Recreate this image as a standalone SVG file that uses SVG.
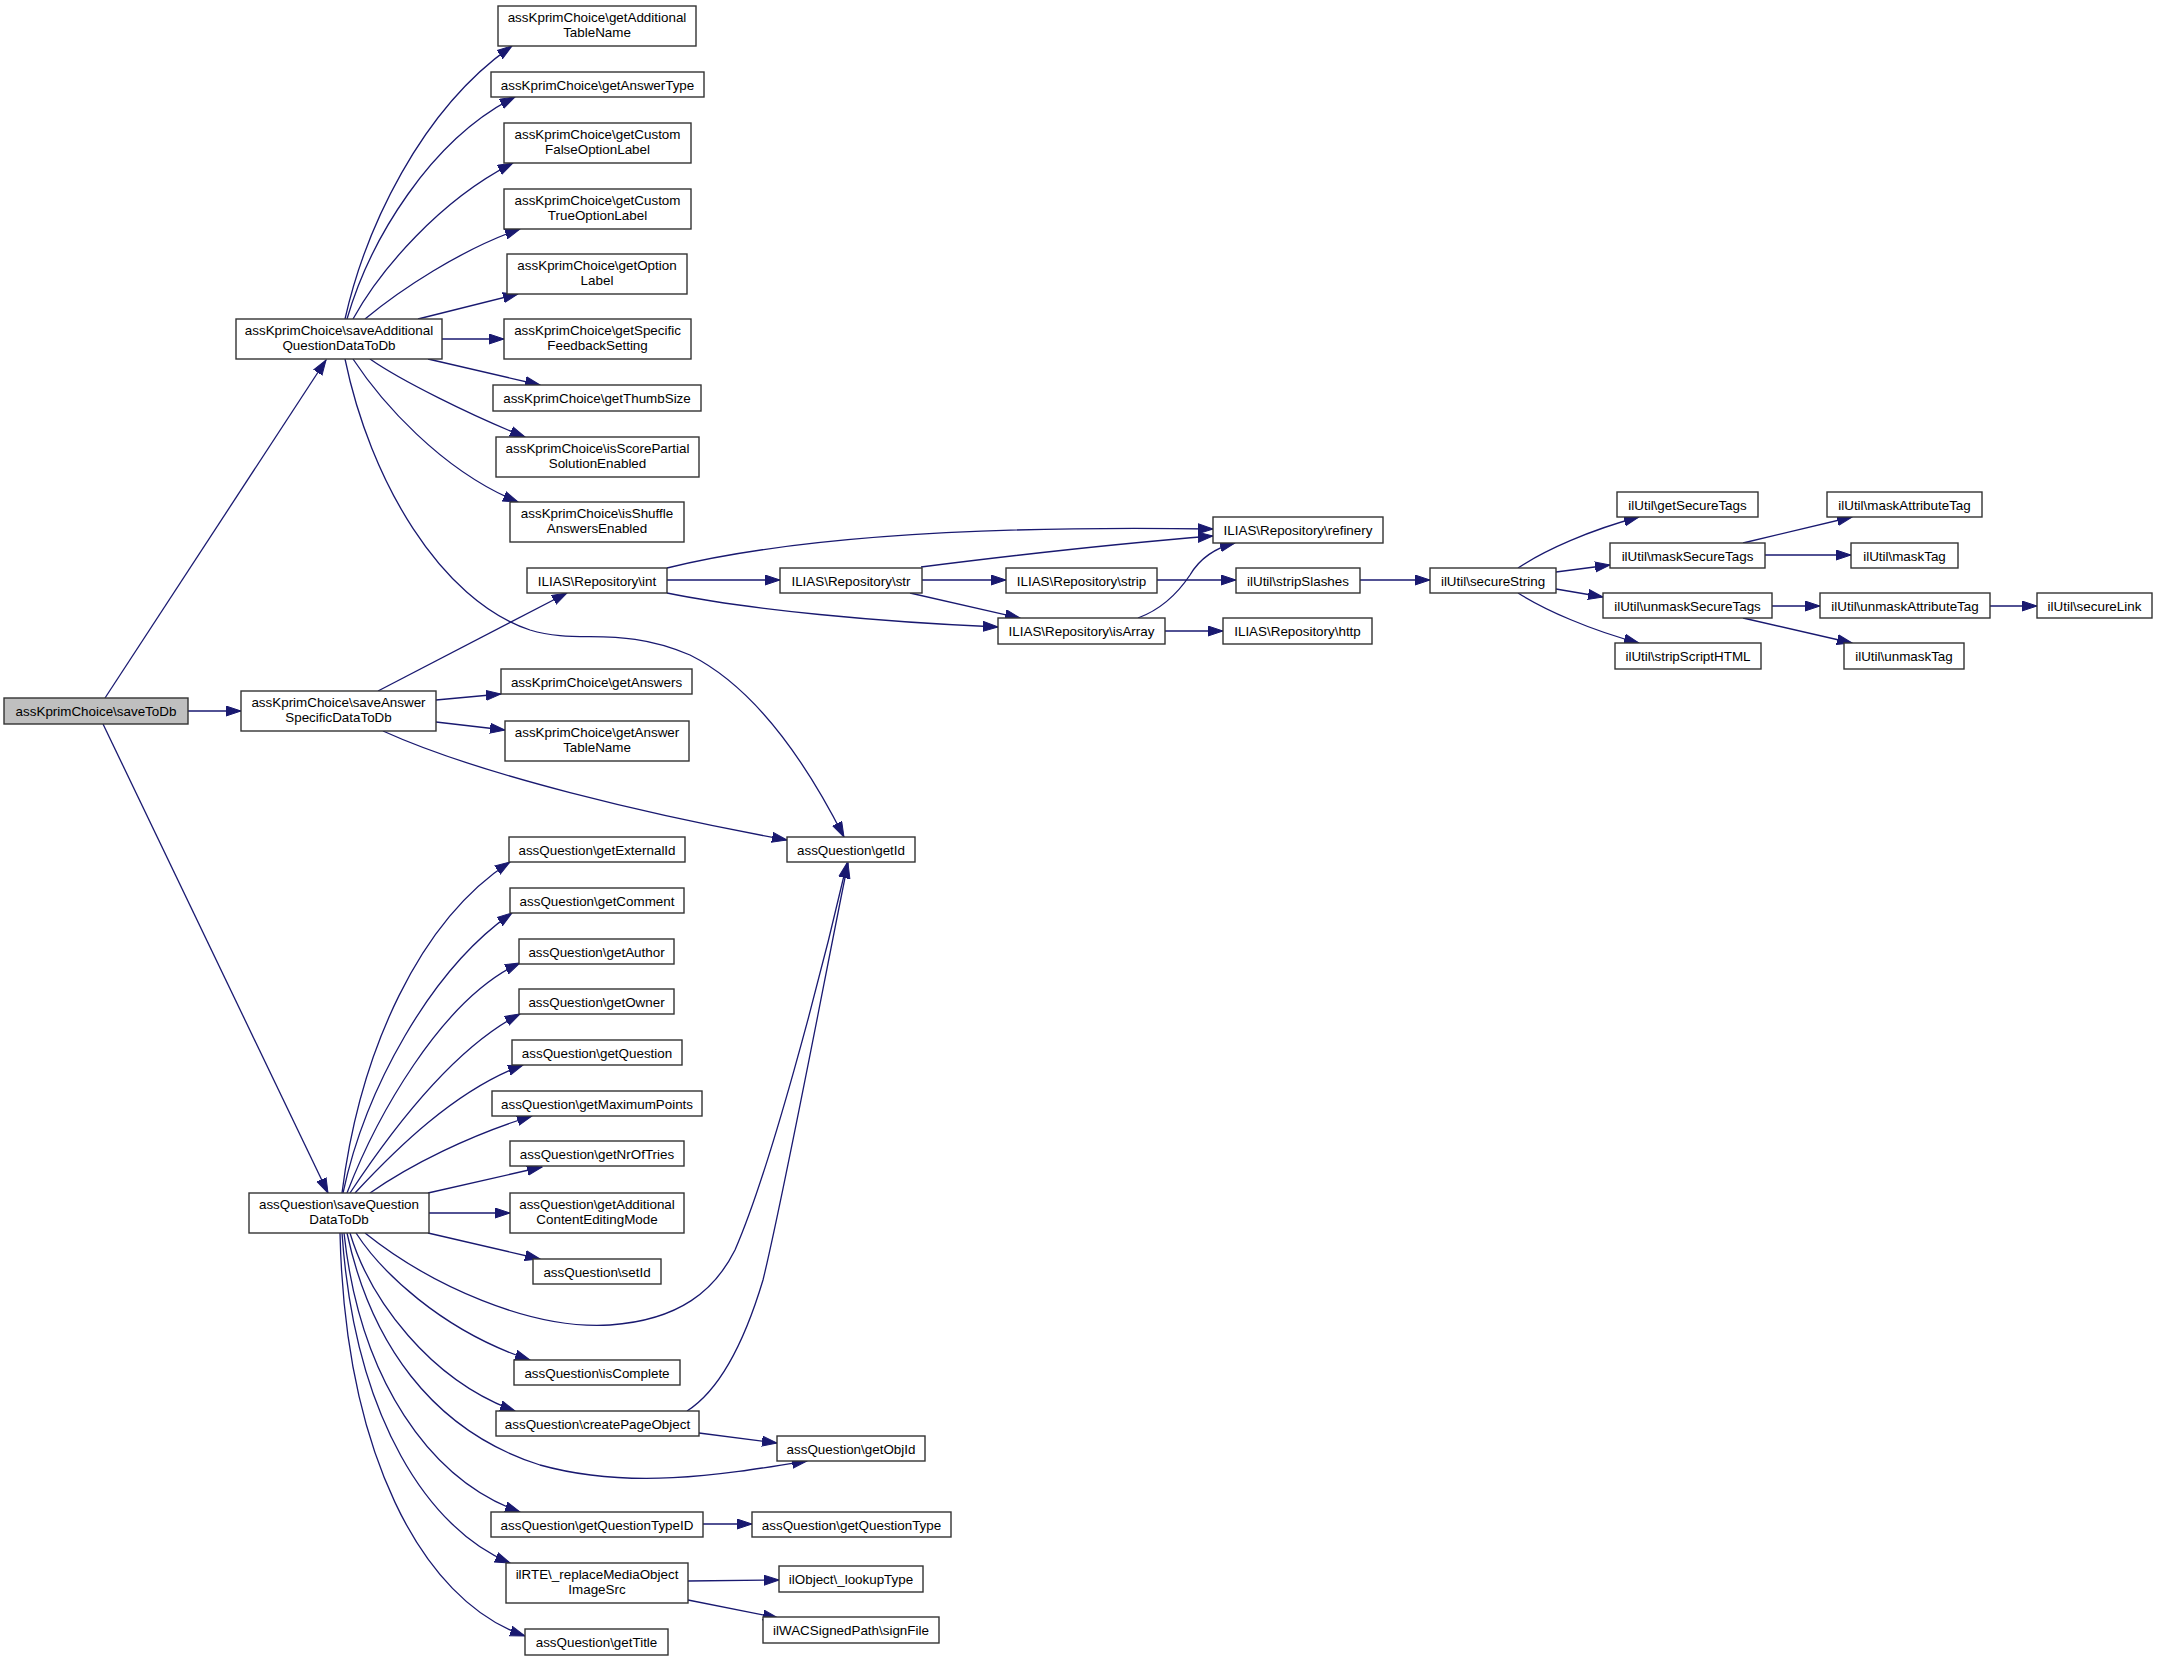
<svg xmlns="http://www.w3.org/2000/svg" width="2157" height="1661" viewBox="0 0 2157 1661">
<style>
.n rect{fill:#fff;stroke:#333;stroke-width:1.4}
.root rect{fill:#bfbfbf}
.n text{font-family:"Liberation Sans",Arial,sans-serif;font-size:13.4px;fill:#000;text-anchor:middle}
.e path{fill:none;stroke:#191970;stroke-width:1.3;marker-end:url(#ah)}
</style>
<defs>
<marker id="ah" markerUnits="userSpaceOnUse" markerWidth="16" markerHeight="12" refX="15" refY="5.5" orient="auto" viewBox="0 0 16 12">
<path d="M0,0.5 L15,5.5 L0,10.5 z" fill="#191970" stroke="#191970" stroke-width="1"/>
</marker>
</defs>
<rect width="2157" height="1661" fill="#fff"/>
<g id="edges" class="e">
<path d="M105,698 L326,360"/>
<path d="M188,711 L241,711"/>
<path d="M103,724 L328,1193"/>
<path d="M345,319 C365,230 420,110 512,46"/>
<path d="M347,319 C370,240 430,140 515,97"/>
<path d="M353,319 C380,270 440,200 513,163"/>
<path d="M365,319 C400,290 460,250 520,229"/>
<path d="M418,319 L518,294"/>
<path d="M442,339 L504,339"/>
<path d="M428,359 L540,385"/>
<path d="M370,359 C400,380 470,415 525,437"/>
<path d="M353,359 C380,400 440,470 518,502"/>
<path d="M345,359 C370,480 440,600 530,630 C580,645 620,625 690,655 C760,690 810,770 844,837"/>
<path d="M378,691 L567,593"/>
<path d="M436,700 L501,694"/>
<path d="M436,722 L505,730"/>
<path d="M383,731 C480,775 650,815 787,840"/>
<path d="M667,568 C780,540 950,525 1213,529"/>
<path d="M667,580 L780,580"/>
<path d="M667,593 C750,610 880,622 998,627"/>
<path d="M921,567 C1000,557 1100,545 1213,536"/>
<path d="M922,580 L1006,580"/>
<path d="M910,593 L1020,618"/>
<path d="M1157,580 L1236,580"/>
<path d="M1360,580 L1430,580"/>
<path d="M1138,618 C1165,608 1180,590 1190,575 C1200,558 1215,548 1235,543"/>
<path d="M1165,631 L1223,631"/>
<path d="M1518,568 C1545,550 1590,530 1639,517"/>
<path d="M1556,572 L1610,565"/>
<path d="M1556,589 L1603,597"/>
<path d="M1518,593 C1545,610 1590,630 1639,643"/>
<path d="M1743,543 L1852,517"/>
<path d="M1765,555 L1851,555"/>
<path d="M1772,606 L1820,606"/>
<path d="M1743,618 L1852,643"/>
<path d="M1990,606 L2037,606"/>
<path d="M342,1193 C360,1050 420,920 510,862"/>
<path d="M343,1193 C365,1090 430,970 512,913"/>
<path d="M347,1193 C375,1120 440,1000 520,963"/>
<path d="M350,1193 C385,1140 450,1050 520,1014"/>
<path d="M355,1193 C395,1150 455,1090 523,1065"/>
<path d="M370,1193 C410,1165 470,1135 532,1116"/>
<path d="M428,1193 L542,1167"/>
<path d="M429,1213 L510,1213"/>
<path d="M428,1233 L540,1259"/>
<path d="M365,1233 C430,1285 530,1330 610,1325 C680,1320 715,1290 735,1250 C770,1170 820,980 847,863"/>
<path d="M687,1411 C720,1390 745,1340 763,1280 C785,1190 830,950 848,863"/>
<path d="M699,1433 L777,1443"/>
<path d="M356,1233 C380,1270 440,1330 530,1360"/>
<path d="M350,1233 C370,1300 430,1380 515,1411"/>
<path d="M347,1233 C370,1340 430,1430 540,1465 C630,1490 720,1475 807,1461"/>
<path d="M344,1233 C360,1380 430,1480 520,1512"/>
<path d="M342,1233 C355,1420 430,1530 510,1563"/>
<path d="M340,1233 C345,1450 420,1600 525,1636"/>
<path d="M703,1524 L752,1524"/>
<path d="M688,1581 L779,1580"/>
<path d="M688,1600 L778,1618"/>
</g>
<g id="saveToDb" class="n root"><rect x="4" y="698" width="184" height="26"/><text x="96" y="715.5">assKprimChoice\saveToDb</text></g>
<g id="saveAdditionalQuestionDataToDb" class="n"><rect x="236" y="319" width="206" height="40"/><text x="339" y="335">assKprimChoice\saveAdditional</text><text x="339" y="350">QuestionDataToDb</text></g>
<g id="saveAnswerSpecificDataToDb" class="n"><rect x="241" y="691" width="195" height="40"/><text x="338.5" y="707">assKprimChoice\saveAnswer</text><text x="338.5" y="722">SpecificDataToDb</text></g>
<g id="saveQuestionDataToDb" class="n"><rect x="249" y="1193" width="180" height="40"/><text x="339" y="1209">assQuestion\saveQuestion</text><text x="339" y="1224">DataToDb</text></g>
<g id="getAdditionalTableName" class="n"><rect x="498" y="6" width="198" height="40"/><text x="597" y="22">assKprimChoice\getAdditional</text><text x="597" y="37">TableName</text></g>
<g id="getAnswerType" class="n"><rect x="491" y="72" width="213" height="25"/><text x="597.5" y="89.5">assKprimChoice\getAnswerType</text></g>
<g id="getCustomFalseOptionLabel" class="n"><rect x="504" y="123" width="187" height="40"/><text x="597.5" y="139">assKprimChoice\getCustom</text><text x="597.5" y="154">FalseOptionLabel</text></g>
<g id="getCustomTrueOptionLabel" class="n"><rect x="504" y="189" width="187" height="40"/><text x="597.5" y="205">assKprimChoice\getCustom</text><text x="597.5" y="220">TrueOptionLabel</text></g>
<g id="getOptionLabel" class="n"><rect x="507" y="254" width="180" height="40"/><text x="597" y="270">assKprimChoice\getOption</text><text x="597" y="285">Label</text></g>
<g id="getSpecificFeedbackSetting" class="n"><rect x="504" y="319" width="187" height="40"/><text x="597.5" y="335">assKprimChoice\getSpecific</text><text x="597.5" y="350">FeedbackSetting</text></g>
<g id="getThumbSize" class="n"><rect x="493" y="385" width="208" height="26"/><text x="597" y="402.5">assKprimChoice\getThumbSize</text></g>
<g id="isScorePartialSolutionEnabled" class="n"><rect x="496" y="437" width="203" height="40"/><text x="597.5" y="453">assKprimChoice\isScorePartial</text><text x="597.5" y="468">SolutionEnabled</text></g>
<g id="isShuffleAnswersEnabled" class="n"><rect x="510" y="502" width="174" height="40"/><text x="597" y="518">assKprimChoice\isShuffle</text><text x="597" y="533">AnswersEnabled</text></g>
<g id="int" class="n"><rect x="527" y="568" width="140" height="25"/><text x="597" y="585.5">ILIAS\Repository\int</text></g>
<g id="getAnswers" class="n"><rect x="501" y="669" width="191" height="25"/><text x="596.5" y="686.5">assKprimChoice\getAnswers</text></g>
<g id="getAnswerTableName" class="n"><rect x="505" y="721" width="184" height="40"/><text x="597" y="737">assKprimChoice\getAnswer</text><text x="597" y="752">TableName</text></g>
<g id="str" class="n"><rect x="780" y="568" width="142" height="25"/><text x="851" y="585.5">ILIAS\Repository\str</text></g>
<g id="refinery" class="n"><rect x="1213" y="517" width="170" height="26"/><text x="1298" y="534.5">ILIAS\Repository\refinery</text></g>
<g id="strip" class="n"><rect x="1006" y="568" width="151" height="25"/><text x="1081.5" y="585.5">ILIAS\Repository\strip</text></g>
<g id="isArray" class="n"><rect x="998" y="618" width="167" height="26"/><text x="1081.5" y="635.5">ILIAS\Repository\isArray</text></g>
<g id="http" class="n"><rect x="1223" y="618" width="149" height="26"/><text x="1297.5" y="635.5">ILIAS\Repository\http</text></g>
<g id="stripSlashes" class="n"><rect x="1236" y="568" width="124" height="25"/><text x="1298" y="585.5">ilUtil\stripSlashes</text></g>
<g id="secureString" class="n"><rect x="1430" y="568" width="126" height="25"/><text x="1493" y="585.5">ilUtil\secureString</text></g>
<g id="getSecureTags" class="n"><rect x="1617" y="492" width="141" height="25"/><text x="1687.5" y="509.5">ilUtil\getSecureTags</text></g>
<g id="maskSecureTags" class="n"><rect x="1610" y="543" width="155" height="25"/><text x="1687.5" y="560.5">ilUtil\maskSecureTags</text></g>
<g id="unmaskSecureTags" class="n"><rect x="1603" y="593" width="169" height="25"/><text x="1687.5" y="610.5">ilUtil\unmaskSecureTags</text></g>
<g id="stripScriptHTML" class="n"><rect x="1615" y="643" width="146" height="26"/><text x="1688" y="660.5">ilUtil\stripScriptHTML</text></g>
<g id="maskAttributeTag" class="n"><rect x="1827" y="492" width="155" height="25"/><text x="1904.5" y="509.5">ilUtil\maskAttributeTag</text></g>
<g id="maskTag" class="n"><rect x="1851" y="543" width="107" height="25"/><text x="1904.5" y="560.5">ilUtil\maskTag</text></g>
<g id="unmaskAttributeTag" class="n"><rect x="1820" y="593" width="170" height="25"/><text x="1905" y="610.5">ilUtil\unmaskAttributeTag</text></g>
<g id="unmaskTag" class="n"><rect x="1844" y="643" width="120" height="26"/><text x="1904" y="660.5">ilUtil\unmaskTag</text></g>
<g id="secureLink" class="n"><rect x="2037" y="593" width="115" height="25"/><text x="2094.5" y="610.5">ilUtil\secureLink</text></g>
<g id="getExternalId" class="n"><rect x="509" y="837" width="176" height="25"/><text x="597" y="854.5">assQuestion\getExternalId</text></g>
<g id="getId" class="n"><rect x="787" y="837" width="128" height="25"/><text x="851" y="854.5">assQuestion\getId</text></g>
<g id="getComment" class="n"><rect x="510" y="888" width="174" height="25"/><text x="597" y="905.5">assQuestion\getComment</text></g>
<g id="getAuthor" class="n"><rect x="519" y="939" width="155" height="25"/><text x="596.5" y="956.5">assQuestion\getAuthor</text></g>
<g id="getOwner" class="n"><rect x="519" y="989" width="155" height="25"/><text x="596.5" y="1006.5">assQuestion\getOwner</text></g>
<g id="getQuestion" class="n"><rect x="512" y="1040" width="170" height="25"/><text x="597" y="1057.5">assQuestion\getQuestion</text></g>
<g id="getMaximumPoints" class="n"><rect x="492" y="1091" width="210" height="25"/><text x="597" y="1108.5">assQuestion\getMaximumPoints</text></g>
<g id="getNrOfTries" class="n"><rect x="510" y="1141" width="174" height="25"/><text x="597" y="1158.5">assQuestion\getNrOfTries</text></g>
<g id="getAdditionalContentEditingMode" class="n"><rect x="510" y="1193" width="174" height="40"/><text x="597" y="1209">assQuestion\getAdditional</text><text x="597" y="1224">ContentEditingMode</text></g>
<g id="setId" class="n"><rect x="533" y="1259" width="128" height="25"/><text x="597" y="1276.5">assQuestion\setId</text></g>
<g id="isComplete" class="n"><rect x="514" y="1360" width="166" height="25"/><text x="597" y="1377.5">assQuestion\isComplete</text></g>
<g id="createPageObject" class="n"><rect x="496" y="1411" width="203" height="25"/><text x="597.5" y="1428.5">assQuestion\createPageObject</text></g>
<g id="getObjId" class="n"><rect x="777" y="1436" width="148" height="25"/><text x="851" y="1453.5">assQuestion\getObjId</text></g>
<g id="getQuestionTypeID" class="n"><rect x="491" y="1512" width="212" height="25"/><text x="597" y="1529.5">assQuestion\getQuestionTypeID</text></g>
<g id="getQuestionType" class="n"><rect x="752" y="1512" width="199" height="25"/><text x="851.5" y="1529.5">assQuestion\getQuestionType</text></g>
<g id="replaceMediaObjectImageSrc" class="n"><rect x="506" y="1563" width="182" height="40"/><text x="597" y="1579">ilRTE\_replaceMediaObject</text><text x="597" y="1594">ImageSrc</text></g>
<g id="lookupType" class="n"><rect x="779" y="1566" width="144" height="26"/><text x="851" y="1583.5">ilObject\_lookupType</text></g>
<g id="signFile" class="n"><rect x="763" y="1617" width="176" height="26"/><text x="851" y="1634.5">ilWACSignedPath\signFile</text></g>
<g id="getTitle" class="n"><rect x="525" y="1629" width="143" height="26"/><text x="596.5" y="1646.5">assQuestion\getTitle</text></g>
</svg>
